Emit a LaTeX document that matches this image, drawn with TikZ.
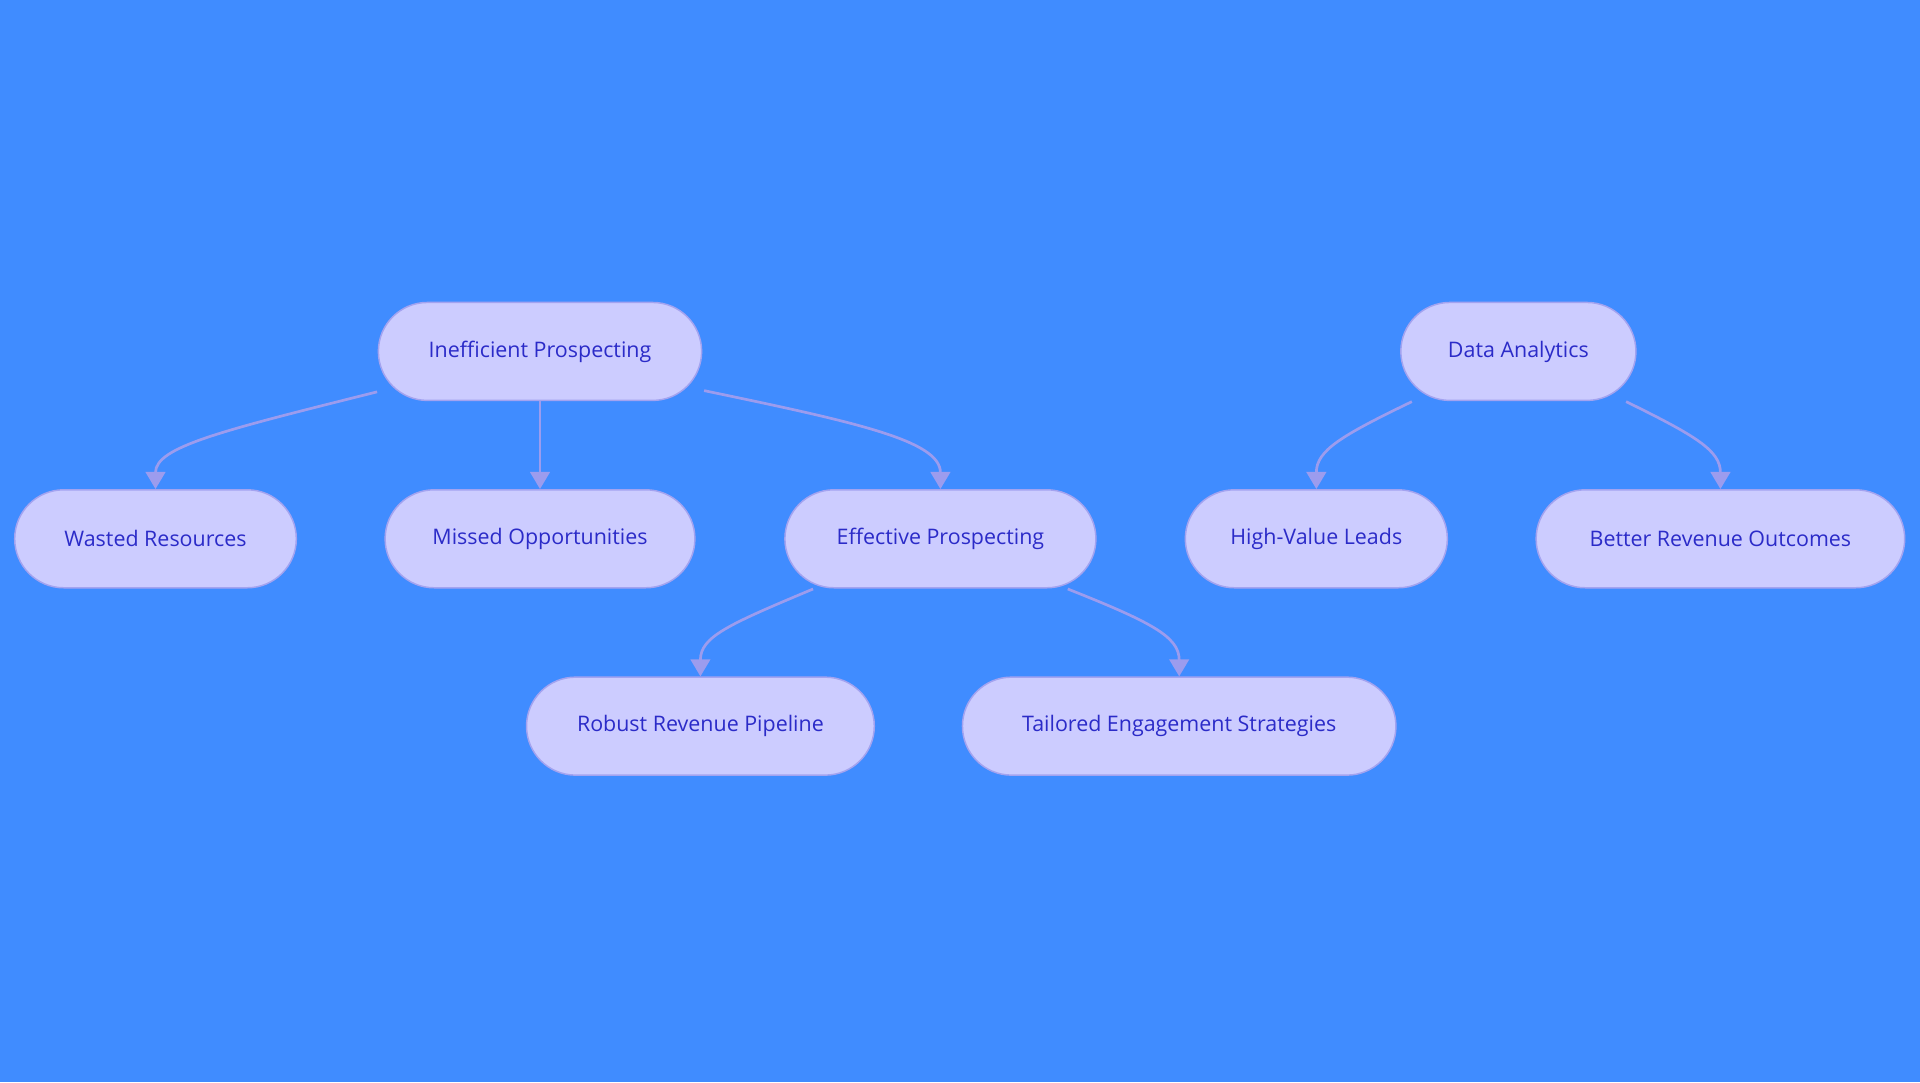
\documentclass[tikz,border=0pt]{standalone}
\usepackage{fontspec}
\setmainfont{Open Sans}
\usetikzlibrary{arrows.meta}
\definecolor{bg}{HTML}{408CFF}
\definecolor{nf}{HTML}{CCCCFF}
\definecolor{nb}{HTML}{A3A3F0}
\definecolor{tx}{HTML}{2B2BC8}
\definecolor{ed}{HTML}{9C9CEE}
\begin{document}
\begin{tikzpicture}[x=1pt,y=-1pt,
  box/.style={rounded corners=40pt,fill=nf,draw=nb,line width=1.2pt,minimum height=80pt,text=tx,font=\fontsize{17.5}{20}\selectfont,inner sep=0pt},
  arr/.style={draw=ed,line width=2.2pt,-{Triangle[length=14pt,width=16pt]}}]
\fill[bg] (0,0) rectangle (1568,884);
\node[box,minimum width=264pt] (ip) at (441,287) {Inefficient Prospecting};
\node[box,minimum width=192pt] (da) at (1240,287) {Data Analytics};
\node[box,minimum width=230pt] (wr) at (127,440) {Wasted Resources};
\node[box,minimum width=253pt] (mo) at (441,440) {Missed Opportunities};
\node[box,minimum width=254pt] (ep) at (768,440) {Effective Prospecting};
\node[box,minimum width=214pt] (hv) at (1075,440) {High-Value Leads};
\node[box,minimum width=301pt] (br) at (1405,440) {Better Revenue Outcomes};
\node[box,minimum width=284pt] (rr) at (572,593) {Robust Revenue Pipeline};
\node[box,minimum width=354pt] (te) at (963,593) {Tailored Engagement Strategies};
\coordinate (a1) at (308,320);
\coordinate (a2) at (575,319);
\coordinate (b1) at (1153,328);
\coordinate (b2) at (1328,328);
\coordinate (c1) at (664,481);
\coordinate (c2) at (872,481);
\draw[arr] (a1) .. controls (180,352) and (127,365) .. (wr.north);
\draw[arr] (ip.south) -- (mo.north);
\draw[arr] (a2) .. controls (700,345) and (768,360) .. (ep.north);
\draw[arr] (b1) .. controls (1095,356) and (1075,368) .. (hv.north);
\draw[arr] (b2) .. controls (1385,356) and (1405,368) .. (br.north);
\draw[arr] (c1) .. controls (595,510) and (572,520) .. (rr.north);
\draw[arr] (c2) .. controls (940,508) and (963,520) .. (te.north);
\end{tikzpicture}
\end{document}
